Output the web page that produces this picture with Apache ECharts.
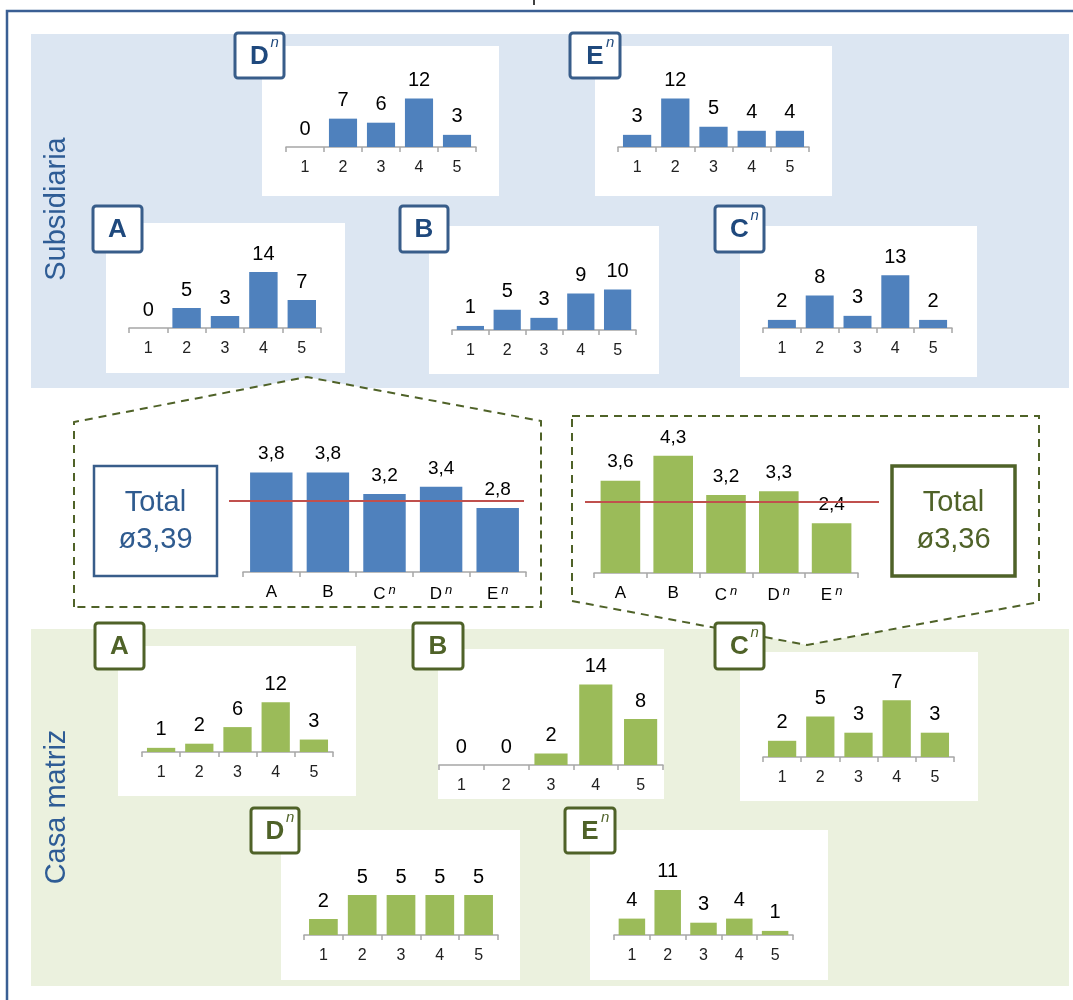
<!DOCTYPE html>
<html>
<head>
<meta charset="utf-8">
<script src="https://cdn.jsdelivr.net/npm/echarts@6/dist/echarts.min.js"></script>
<style>
  html, body { margin: 0; padding: 0; background: #fff; }
  #chart { width: 1073px; height: 1000px; }
</style>
</head>
<body>
<div id="chart"></div>
<script>
// escala de respuesta (1..5) y empresas
const escala = ['1', '2', '3', '4', '5'];
const empresas = ['A', 'B', 'C^n', 'D^n', 'E^n'];

// Subsidiaria: número de respuestas por valor
const subA = [0, 5, 3, 14, 7];
const subB = [1, 5, 3, 9, 10];
const subC = [2, 8, 3, 13, 2];
const subD = [0, 7, 6, 12, 3];
const subE = [3, 12, 5, 4, 4];

// Casa matriz: número de respuestas por valor
const casaA = [1, 2, 6, 12, 3];
const casaB = [0, 0, 2, 14, 8];
const casaC = [2, 5, 3, 7, 3];
const casaD = [2, 5, 5, 5, 5];
const casaE = [4, 11, 3, 4, 1];

// promedios por empresa
const promSub = [3.8, 3.8, 3.2, 3.4, 2.8];
const promCasa = [3.6, 4.3, 3.2, 3.3, 2.4];
const totalSub = 3.39;
const totalCasa = 3.36;
const lineaRef = 3; // punto medio de la escala

const FONT = '"Liberation Sans", Arial, sans-serif';
const AZUL = '#4f81bd';
const VERDE = '#9bbb59';
const BORDE_AZUL = '#385d8a';
const TEXTO_AZUL = '#1f497d';
const BORDE_VERDE = '#4f6228';
const EJE = '#a6a6a6';

const coma = v => String(v).replace('.', ',');

// paneles pequeños: panel [x,y,w,h], caja [x,y,w,h], eje [x0,x1,yEje,px por unidad]
const paneles = [
  { nombre: 'D', sup: true, datos: subD, color: AZUL, borde: BORDE_AZUL, texto: TEXTO_AZUL, panel: [262, 46, 237, 150], caja: [235, 33, 49, 45], eje: [286, 476, 147, 4.05] },
  { nombre: 'E', sup: true, datos: subE, color: AZUL, borde: BORDE_AZUL, texto: TEXTO_AZUL, panel: [595, 46, 237, 150], caja: [570, 33, 50, 45], eje: [618, 809, 147, 4.05] },
  { nombre: 'A', sup: false, datos: subA, color: AZUL, borde: BORDE_AZUL, texto: TEXTO_AZUL, panel: [106, 223, 239, 150], caja: [93, 206, 49, 46], eje: [129, 321, 328, 4.0] },
  { nombre: 'B', sup: false, datos: subB, color: AZUL, borde: BORDE_AZUL, texto: TEXTO_AZUL, panel: [429, 226, 230, 148], caja: [400, 206, 48, 46], eje: [452, 636, 330, 4.05] },
  { nombre: 'C', sup: true, datos: subC, color: AZUL, borde: BORDE_AZUL, texto: TEXTO_AZUL, panel: [740, 226, 237, 151], caja: [715, 206, 49, 46], eje: [763, 952, 328, 4.05] },
  { nombre: 'A', sup: false, datos: casaA, color: VERDE, borde: BORDE_VERDE, texto: BORDE_VERDE, panel: [118, 646, 238, 150], caja: [95, 623, 49, 46], eje: [142, 333, 752, 4.15] },
  { nombre: 'B', sup: false, datos: casaB, color: VERDE, borde: BORDE_VERDE, texto: BORDE_VERDE, panel: [438, 649, 226, 150], caja: [413, 623, 50, 46], eje: [439, 663, 765, 5.75] },
  { nombre: 'C', sup: true, datos: casaC, color: VERDE, borde: BORDE_VERDE, texto: BORDE_VERDE, panel: [740, 652, 238, 149], caja: [715, 623, 49, 46], eje: [763, 954, 757, 8.1] },
  { nombre: 'D', sup: true, datos: casaD, color: VERDE, borde: BORDE_VERDE, texto: BORDE_VERDE, panel: [281, 830, 239, 150], caja: [251, 808, 48, 45], eje: [304, 498, 935, 8.0] },
  { nombre: 'E', sup: true, datos: casaE, color: VERDE, borde: BORDE_VERDE, texto: BORDE_VERDE, panel: [590, 830, 238, 150], caja: [565, 808, 50, 45], eje: [614, 793, 935, 4.1] }
];

// gráficos de promedio: eje [x0,x1,yEje,px por unidad], línea [x0,x1]
const promedios = [
  { datos: promSub, color: AZUL, eje: [243, 526, 572, 35.5], linea: [229, 524] },
  { datos: promCasa, color: VERDE, eje: [594, 858, 573, 35.5], linea: [585, 879] }
];

const grid = [], xAxis = [], yAxis = [], series = [], graficos = [];

// fondo y marco
graficos.push(
  { type: 'rect', z: 0, shape: { x: 7, y: 11, width: 1100, height: 1100 }, style: { fill: 'none', stroke: '#3a5f94', lineWidth: 2.5 } },
  { type: 'line', z: 0, shape: { x1: 534, y1: 0, x2: 534, y2: 5 }, style: { stroke: '#000', lineWidth: 1.5 } },
  { type: 'rect', z: 0, shape: { x: 31, y: 34, width: 1038, height: 354 }, style: { fill: '#dce6f2' } },
  { type: 'rect', z: 0, shape: { x: 31, y: 629, width: 1038, height: 357 }, style: { fill: '#ebf1de' } },
  { type: 'polygon', z: 1, shape: { points: [[74, 607], [74, 422], [307, 377], [541, 421], [541, 607]] },
    style: { fill: '#fff', stroke: BORDE_VERDE, lineWidth: 2, lineDash: [8, 6] } },
  { type: 'polygon', z: 1, shape: { points: [[572, 416], [1039, 416], [1039, 602], [807, 645], [572, 601]] },
    style: { fill: '#fff', stroke: BORDE_VERDE, lineWidth: 2, lineDash: [8, 6] } },
  { type: 'text', z: 3, x: 57, y: 209, rotation: Math.PI / 2,
    style: { text: 'Subsidiaria', fontSize: 29, fontFamily: FONT, fill: '#2e5c95', align: 'center', verticalAlign: 'middle' } },
  { type: 'text', z: 3, x: 57, y: 807, rotation: Math.PI / 2,
    style: { text: 'Casa matriz', fontSize: 29, fontFamily: FONT, fill: '#2e5c95', align: 'center', verticalAlign: 'middle' } }
);

paneles.forEach((p, i) => {
  const [px, py, pw, ph] = p.panel;
  const [cx, cy, cw, ch] = p.caja;
  graficos.push(
    { type: 'rect', z: 2, shape: { x: px, y: py, width: pw, height: ph }, style: { fill: '#fff' } },
    { type: 'rect', z: 3, shape: { x: cx, y: cy, width: cw, height: ch, r: 3 }, style: { fill: '#fff', stroke: p.borde, lineWidth: 3 } },
    { type: 'text', z: 4, x: cx + cw / 2, y: cy + ch / 2 + 1,
      style: { text: p.nombre, fontSize: 26, fontWeight: 'bold', fontFamily: FONT, fill: p.texto, align: 'center', verticalAlign: 'middle' } }
  );
  if (p.sup) {
    graficos.push({ type: 'text', z: 4, x: cx + cw / 2 + 11, y: cy + 10,
      style: { text: 'n', fontSize: 15, fontStyle: 'italic', fontFamily: FONT, fill: p.texto, align: 'left', verticalAlign: 'middle' } });
  }

  const [x0, x1, yEje, ppu] = p.eje;
  const maxY = 20;
  grid.push({ left: x0, width: x1 - x0, top: yEje - maxY * ppu, height: maxY * ppu });
  xAxis.push({
    type: 'category', gridIndex: i, data: escala, z: 5,
    axisLine: { lineStyle: { color: EJE, width: 1.5 } },
    axisTick: { show: true, length: 5, lineStyle: { color: EJE, width: 1.5 } },
    axisLabel: { interval: 0, fontSize: 16, color: '#222', margin: 13, fontFamily: FONT }
  });
  yAxis.push({ type: 'value', gridIndex: i, min: 0, max: maxY, show: false });
  series.push({
    type: 'bar', xAxisIndex: i, yAxisIndex: i, data: p.datos, z: 5,
    barCategoryGap: '26%',
    itemStyle: { color: p.color },
    label: { show: true, position: 'top', distance: 8, fontSize: 20, color: '#000', fontFamily: FONT }
  });
});

// gráficos de promedios con línea de referencia
promedios.forEach(g => {
  const [x0, x1, yEje, ppu] = g.eje;
  const alto = 4 * ppu;
  let i = grid.length;
  grid.push({ left: x0, width: x1 - x0, top: yEje - alto, height: alto });
  xAxis.push({
    type: 'category', gridIndex: i, data: empresas, z: 5,
    axisLine: { lineStyle: { color: EJE, width: 1.5 } },
    axisTick: { show: true, length: 5, lineStyle: { color: EJE, width: 1.5 } },
    axisLabel: {
      interval: 0,
      margin: 12,
      formatter: v => v.indexOf('^') > 0 ? '{c|' + v[0] + '}{n|n}' : '{c|' + v + '}',
      rich: {
        c: { fontSize: 17, color: '#000', fontFamily: FONT },
        n: { fontSize: 13, fontStyle: 'italic', color: '#000', fontFamily: FONT, padding: [0, 0, 8, 3] }
      }
    }
  });
  yAxis.push({ type: 'value', gridIndex: i, min: 1, max: 5, show: false });
  series.push({
    type: 'bar', xAxisIndex: i, yAxisIndex: i, data: g.datos, z: 5,
    barCategoryGap: '25%',
    itemStyle: { color: g.color },
    label: { show: true, position: 'top', distance: 9, fontSize: 19, color: '#000', fontFamily: FONT, formatter: p => coma(p.value) }
  });

  // línea roja en el punto medio, un poco más ancha que el eje
  i = grid.length;
  grid.push({ left: g.linea[0], width: g.linea[1] - g.linea[0], top: yEje - alto, height: alto });
  xAxis.push({ type: 'value', gridIndex: i, min: 0, max: 1, show: false });
  yAxis.push({ type: 'value', gridIndex: i, min: 1, max: 5, show: false });
  series.push({
    type: 'line', xAxisIndex: i, yAxisIndex: i, z: 6, symbol: 'none',
    data: [[0, lineaRef], [1, lineaRef]],
    lineStyle: { color: '#c0504d', width: 2 }
  });
});

// cajas de total
[
  { x: 94, total: totalSub, borde: BORDE_AZUL, texto: '#2f5b8f', ancho: 2.5 },
  { x: 892, total: totalCasa, borde: BORDE_VERDE, texto: BORDE_VERDE, ancho: 3.5 }
].forEach(t => {
  graficos.push(
    { type: 'rect', z: 3, shape: { x: t.x, y: 466, width: 123, height: 110 }, style: { fill: '#fff', stroke: t.borde, lineWidth: t.ancho } },
    { type: 'text', z: 4, x: t.x + 61.5, y: 503,
      style: { text: 'Total', fontSize: 29, fontFamily: FONT, fill: t.texto, align: 'center', verticalAlign: 'middle' } },
    { type: 'text', z: 4, x: t.x + 61.5, y: 540,
      style: { text: 'ø' + coma(t.total), fontSize: 29, fontFamily: FONT, fill: t.texto, align: 'center', verticalAlign: 'middle' } }
  );
});

const chart = echarts.init(document.getElementById('chart'), null, { renderer: 'canvas' });
chart.setOption({
  animation: false,
  backgroundColor: '#fff',
  textStyle: { fontFamily: FONT },
  graphic: { elements: graficos },
  grid, xAxis, yAxis, series
});
</script>
</body>
</html>
